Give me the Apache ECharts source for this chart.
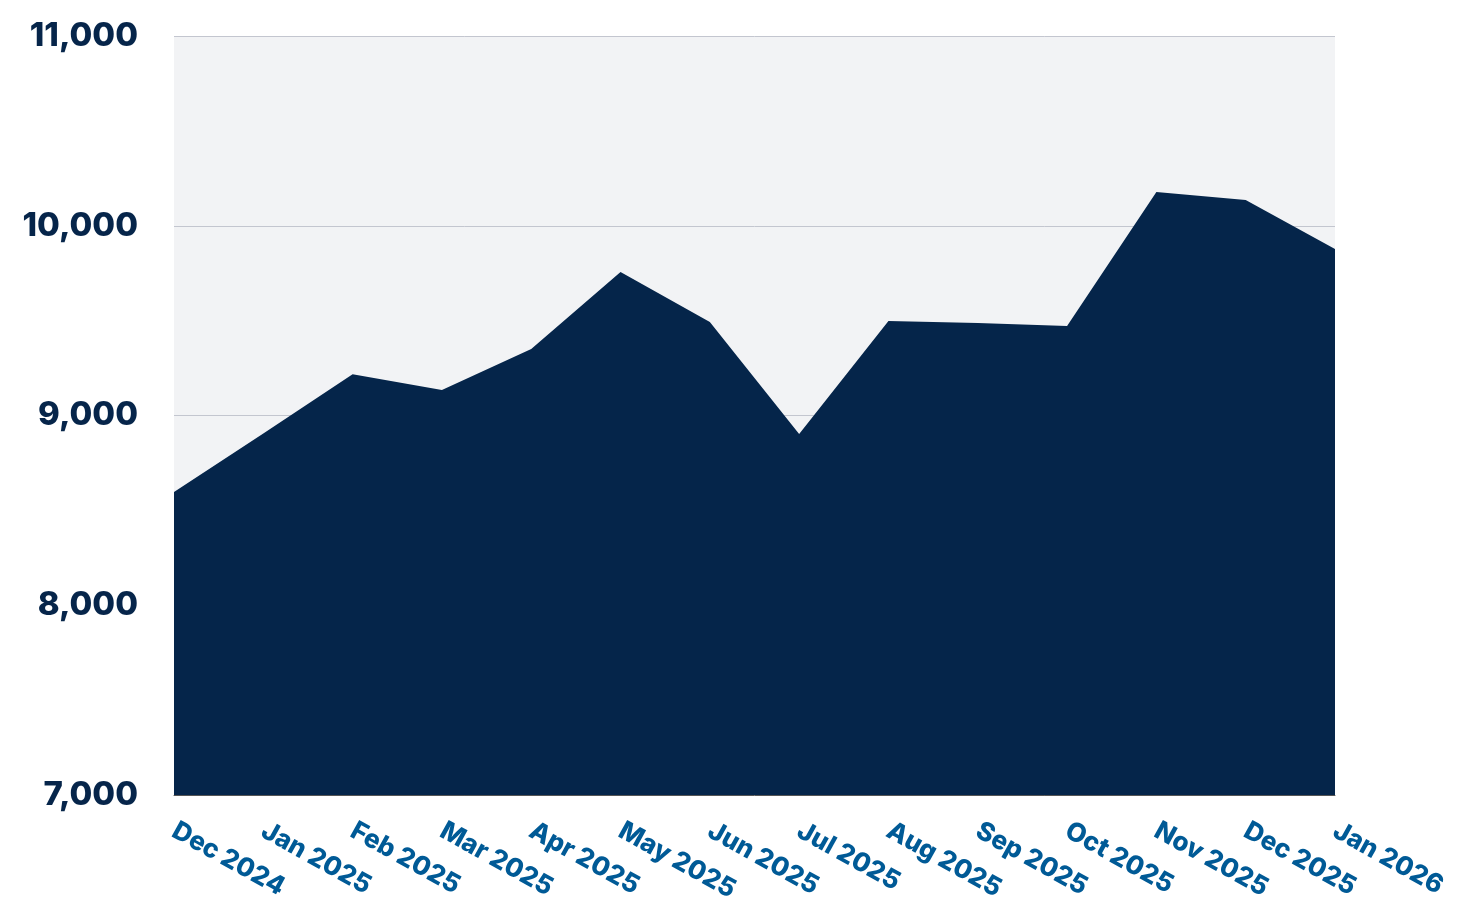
<!DOCTYPE html>
<html>
<head>
<meta charset="utf-8">
<script src="https://cdn.jsdelivr.net/npm/echarts@6/dist/echarts.min.js"></script>
<style>
html,body{margin:0;padding:0;background:#fff;}
#c{width:1466px;height:914px;}
</style>
</head>
<body>
<div id="c"></div>
<script>
const categories = ["Dec 2024","Jan 2025","Feb 2025","Mar 2025","Apr 2025","May 2025","Jun 2025","Jul 2025","Aug 2025","Sep 2025","Oct 2025","Nov 2025","Dec 2025","Jan 2026"];
const values = [8597, 8905, 9218, 9134, 9350, 9756, 9493, 8903, 9498, 9488, 9472, 10178, 10136, 9877];
const yTicks = [7000, 8000, 9000, 10000, 11000];

const chart = echarts.init(document.getElementById('c'));
chart.setOption({
  animation: false,
  grid: {left: 174, right: 131, top: 36, bottom: 119, show: true, backgroundColor: '#f2f3f5', borderWidth: 0},
  xAxis: {
    type: 'category',
    data: categories,
    boundaryGap: false,
    axisLine: {show: true, lineStyle: {color: '#555', width: 1}},
    axisTick: {show: false},
    splitLine: {show: false},
    axisLabel: {
      rotate: -29, interval: 0, margin: 34,
      color: '#005a96', fontSize: 26, fontWeight: 800,
      fontFamily: 'Inter, "Noto Sans", sans-serif'
    }
  },
  yAxis: {
    type: 'value',
    min: yTicks[0], max: yTicks[yTicks.length - 1], interval: 1000,
    axisLine: {show: false},
    axisTick: {show: false},
    splitLine: {show: true, lineStyle: {color: '#c3c6cf', width: 1}},
    axisLabel: {
      margin: 36, color: '#06254a', fontSize: 33, fontWeight: 800,
      fontFamily: 'Inter, "Noto Sans", sans-serif',
      padding: [4, 0, 0, 0],
      formatter: v => v.toLocaleString('en-US')
    }
  },
  series: [{
    type: 'line',
    data: values,
    symbol: 'none',
    lineStyle: {width: 0, color: '#05254a'},
    areaStyle: {color: '#05254a', opacity: 1},
    z: 2
  }]
});
</script>
</body>
</html>
